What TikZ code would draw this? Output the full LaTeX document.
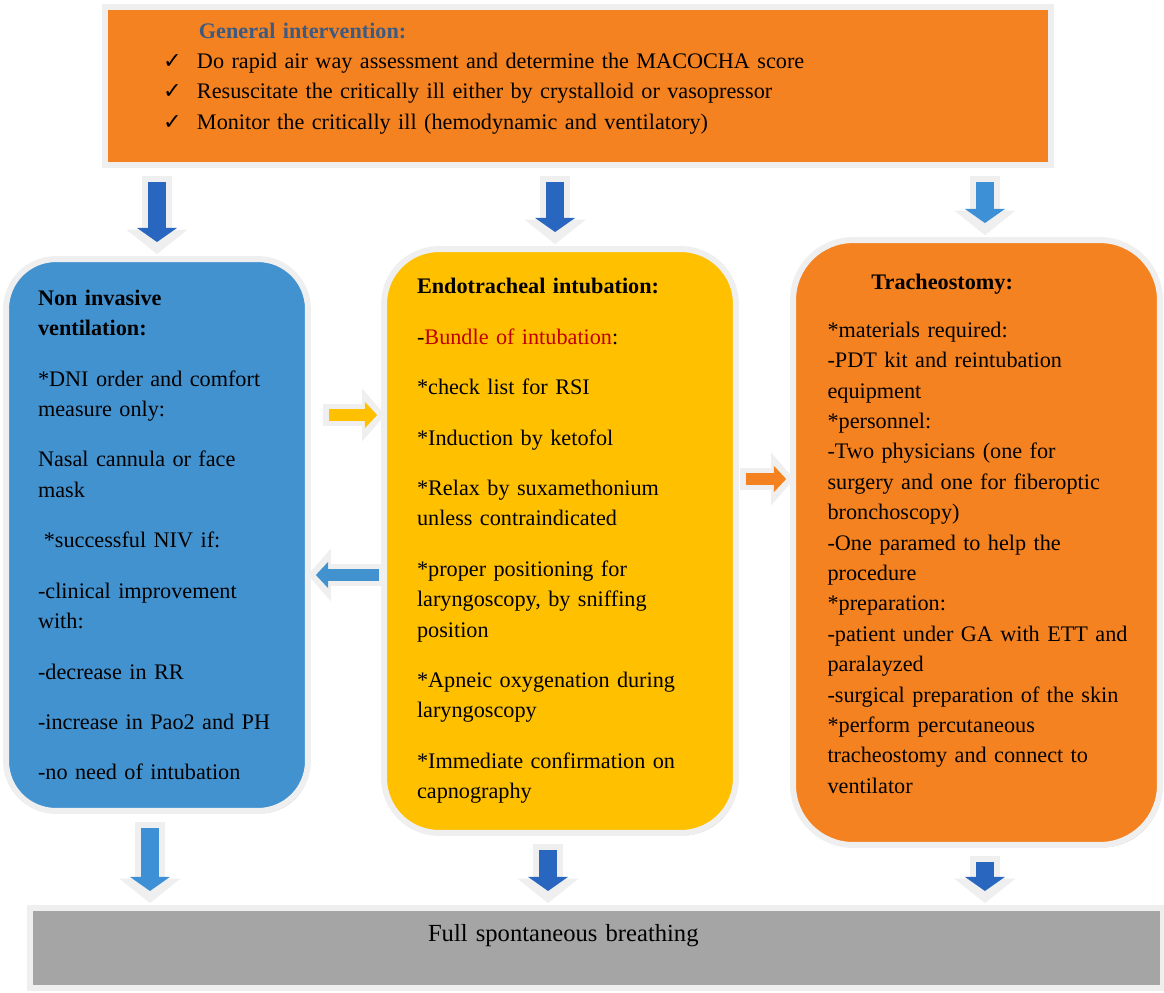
\documentclass[tikz,border=0pt]{standalone}
\usepackage{fontspec}
\setmainfont{Liberation Serif}
\newfontfamily\symfont{DejaVu Sans}
\usepackage{xcolor}
\usetikzlibrary{arrows.meta,positioning,shadows,calc}
\definecolor{orangebox}{HTML}{F58220}
\definecolor{bluebox}{HTML}{4392D0}
\definecolor{yellowbox}{HTML}{FFC000}
\definecolor{greybox}{HTML}{A5A5A5}
\definecolor{rim}{HTML}{EFEFEF}
\definecolor{slateblue}{HTML}{3D5A80}
\definecolor{darkred}{HTML}{C00000}
\definecolor{arrowblue}{HTML}{2866C0}
\definecolor{lightblue}{HTML}{3D90D6}
\definecolor{tanshadow}{HTML}{C4A27E}
\definecolor{blueshadow}{HTML}{8A9BB8}
\newcommand{\chk}{\makebox[19.3pt][l]{\symfont\char"2713}}
\tikzset{
  base/.style={align=left,draw=rim,line width=3.4pt,inner sep=4pt},
  banner/.style={base,fill=orangebox,drop shadow={shadow xshift=0.6pt,shadow yshift=-1.4pt,fill=tanshadow,opacity=0.9}},
  niv/.style={base,rounded corners=1cm,fill=bluebox,drop shadow={shadow xshift=1pt,shadow yshift=-1.4pt,fill=blueshadow,opacity=0.9}},
  endo/.style={base,rounded corners=1.1cm,fill=yellowbox,drop shadow={shadow xshift=1pt,shadow yshift=-1.4pt,fill=tanshadow,opacity=0.9}},
  trach/.style={base,rounded corners=1.2cm,fill=orangebox,drop shadow={shadow xshift=1pt,shadow yshift=-1.4pt,fill=tanshadow,opacity=0.9}},
  outcome/.style={base,fill=greybox,font=\fontsize{14pt}{17pt}\selectfont},
  shell/.style={line width=17pt,draw=rim,-{Triangle[length=14pt,width=35pt,line width=0pt]},shorten <=4.5pt,shorten >=1.1pt},
  core/.style={line width=10pt,draw=#1,-{Triangle[length=8pt,width=22.7pt,line width=0pt]},shorten <=8pt,shorten >=8pt},
  hshell/.style={line width=13pt,draw=rim,-{Triangle[length=13pt,width=30pt,line width=0pt]}},
  hcore/.style={line width=7pt,draw=#1,-{Triangle[length=7pt,width=15pt,line width=0pt]},shorten <=3.5pt,shorten >=4.5pt},
  every node/.style={font=\fontsize{12.65pt}{17.3pt}\selectfont}
}
\begin{document}
\begin{tikzpicture}[x=0.02cm,y=-0.02cm]
\useasboundingbox (0,0) rectangle (1164,992);

\node[banner,minimum width=18.92cm,minimum height=3.16cm,text width=16.6cm] (general) at (578,86)
  {\hspace*{20.4pt}\textbf{\color{slateblue}General intervention:}\\
   \chk Do rapid air way assessment and determine the MACOCHA score\\
   \chk Resuscitate the critically ill either by crystalloid or vasopressor\\
   \chk Monitor the critically ill (hemodynamic and ventilatory)\\[-6pt]\mbox{}};

\node[niv,minimum width=6.04cm,minimum height=11.04cm,text width=4.76cm] (vent) at (157,535)
  {\textbf{Non invasive}\\
   \textbf{ventilation:}\\[11.4pt]
   *DNI order and comfort\\
   measure only:\\[11.4pt]
   Nasal cannula or face\\
   mask\\[11.4pt]
   \hspace*{3.3pt}*successful NIV if:\\[11.4pt]
   -clinical improvement\\
   with:\\[11.4pt]
   -decrease in RR\\[11.4pt]
   -increase in Pao2 and PH\\[11.4pt]
   -no need of intubation};

\node[endo,minimum width=7.04cm,minimum height=11.68cm,text width=5.72cm] (intub) at (560,541)
  {\textbf{Endotracheal intubation:}\\[11.4pt]
   -\textcolor{darkred}{Bundle of intubation}:\\[11.4pt]
   *check list for RSI\\[11.4pt]
   *Induction by ketofol\\[11.4pt]
   *Relax by suxamethonium\\
   unless contraindicated\\[11.4pt]
   *proper positioning for\\
   laryngoscopy, by sniffing\\
   position\\[11.4pt]
   *Apneic oxygenation during\\
   laryngoscopy\\[11.4pt]
   *Immediate confirmation on\\
   capnography};

\node[trach,minimum width=7.34cm,minimum height=12.1cm,text width=5.96cm] (tracheo) at (976.5,542.5)
  {\hspace*{25pt}\textbf{Tracheostomy:}\\[10pt]
   {}*materials required:\\
   -PDT kit and reintubation\\
   equipment\\
   {}*personnel:\\
   -Two physicians (one for\\
   surgery and one for fiberoptic\\
   bronchoscopy)\\
   -One paramed to help the\\
   procedure\\
   {}*preparation:\\
   \mbox{-patient under GA with ETT and}\\
   paralayzed\\
   \mbox{-surgical preparation of the skin}\\
   {}*perform percutaneous\\
   tracheostomy and connect to\\
   ventilator\\[-7.1pt]\mbox{}};

\node[outcome,minimum width=22.66cm,minimum height=1.6cm,text width=6.74cm,text height=10pt,text depth=17pt] (full) at (596.5,948)
  {Full spontaneous breathing};

% from the general intervention down to the three routes
\draw[shell] (general.south -| vent.north) -- (vent.north);
\draw[core=arrowblue] (general.south -| vent.north) -- (vent.north);
\draw[shell] ([xshift=-2.8pt]general.south -| intub.north) -- ([xshift=-2.8pt]intub.north);
\draw[core=arrowblue] ([xshift=-2.8pt]general.south -| intub.north) -- ([xshift=-2.8pt]intub.north);
\draw[shell] ([xshift=4.8pt]general.south -| tracheo.north) -- ([xshift=4.8pt]tracheo.north);
\draw[core=lightblue] ([xshift=4.8pt]general.south -| tracheo.north) -- ([xshift=4.8pt]tracheo.north);

% between the routes
\draw[hshell] ($(vent.east)+(12,-120)$) -- ($(intub.west)+(4,-126)$);
\draw[hcore=yellowbox] ($(vent.east)+(12,-120)$) -- ($(intub.west)+(4,-126)$);
\draw[hshell] ($(intub.east)+(1,-62)$) -- ($(tracheo.west)+(4,-63.5)$);
\draw[hcore=orangebox] ($(intub.east)+(1,-62)$) -- ($(tracheo.west)+(4,-63.5)$);
\draw[hshell] ($(intub.west)+(4,34)$) -- ($(vent.east)+(-3,40)$);
\draw[hcore=bluebox] ($(intub.west)+(4,34)$) -- ($(vent.east)+(-3,40)$);

% down to full spontaneous breathing
\draw[shell] ([xshift=-4pt]vent.south) -- ([xshift=-4pt]vent.south |- full.north);
\draw[core=lightblue] ([xshift=-4pt]vent.south) -- ([xshift=-4pt]vent.south |- full.north);
\draw[shell] ([xshift=-6.8pt]intub.south) -- ([xshift=-6.8pt]intub.south |- full.north);
\draw[core=arrowblue] ([xshift=-6.8pt]intub.south) -- ([xshift=-6.8pt]intub.south |- full.north);
\draw[shell] ([xshift=4.8pt]tracheo.south) -- ([xshift=4.8pt]tracheo.south |- full.north);
\draw[core=arrowblue] ([xshift=4.8pt]tracheo.south) -- ([xshift=4.8pt]tracheo.south |- full.north);
\end{tikzpicture}
\end{document}
